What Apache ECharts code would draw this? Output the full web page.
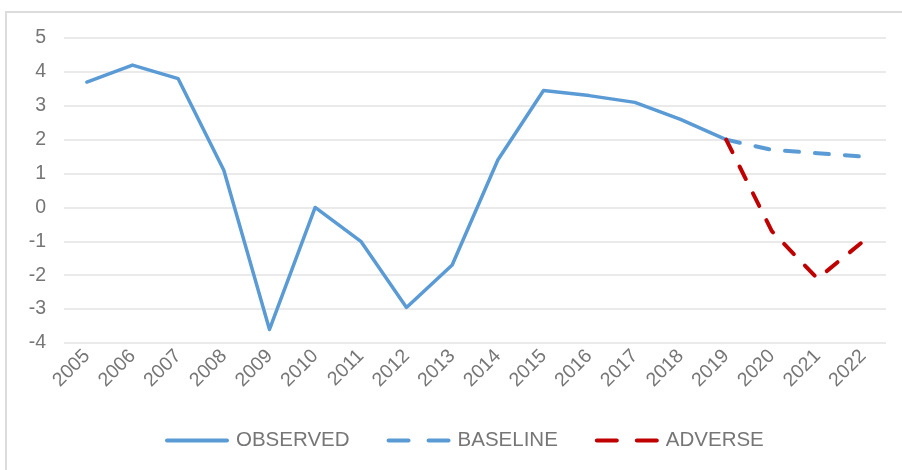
<!DOCTYPE html>
<html>
<head>
<meta charset="utf-8">
<style>
  html, body { margin: 0; padding: 0; background: #fff; }
  #frame { position: absolute; left: 5px; top: 11px; width: 902px; height: 470px;
           border-left: 2px solid #dcdcdc; border-top: 2px solid #dcdcdc; box-sizing: border-box; }
  #chart { position: absolute; left: 0; top: 0; width: 902px; height: 470px; }
</style>
<script src="https://cdn.jsdelivr.net/npm/echarts@6/dist/echarts.min.js"></script>
</head>
<body>
<div id="frame"></div>
<div id="chart"></div>
<script>
// Annual growth, observed history and two projection scenarios (%)
const years = ['2005','2006','2007','2008','2009','2010','2011','2012','2013',
               '2014','2015','2016','2017','2018','2019','2020','2021','2022'];
const observed = [3.7, 4.2, 3.8, 1.1, -3.6, 0.0, -1.0, -2.95, -1.7,
                  1.4, 3.45, 3.3, 3.1, 2.6, 2.0, null, null, null];
const baseline = [null, null, null, null, null, null, null, null, null,
                  null, null, null, null, null, 2.0, 1.7, 1.6, 1.5];
const adverse  = [null, null, null, null, null, null, null, null, null,
                  null, null, null, null, null, 2.0, -0.7, -2.1, -1.0];
const yTicks = { min: -4, max: 5, step: 1 };

const BLUE = '#5b9bd5';
const RED = '#c00000';
const TEXT = '#767676';
const FONT = '"Liberation Sans", Arial, sans-serif';

// legend glyphs: a solid stroke and a two-dash stroke
const SOLID_ICON = 'path://M2,0 L62,0 A2,2 0 0 1 62,4 L2,4 A2,2 0 0 1 2,0 Z';
const DASH_ICON = 'path://M2,0 L22,0 A2,2 0 0 1 22,4 L2,4 A2,2 0 0 1 2,0 Z ' +
                  'M42,0 L62,0 A2,2 0 0 1 62,4 L42,4 A2,2 0 0 1 42,0 Z';

const chart = echarts.init(document.getElementById('chart'), null, { renderer: 'canvas' });
chart.setOption({
  animation: false,
  textStyle: { fontFamily: FONT },
  grid: { left: 64, right: 16, top: 38, bottom: 127 },
  legend: {
    bottom: 14,
    left: 160,
    itemWidth: 64,
    itemHeight: 4,
    itemGap: 37,
    textStyle: { color: TEXT, fontSize: 20.5, fontFamily: FONT, padding: [0, 0, 0, 2] },
    data: [
      { name: 'OBSERVED', icon: SOLID_ICON },
      { name: 'BASELINE', icon: DASH_ICON },
      { name: 'ADVERSE', icon: DASH_ICON }
    ]
  },
  xAxis: {
    type: 'category',
    data: years,
    boundaryGap: true,
    axisLine: { show: false },
    axisTick: { show: false },
    axisLabel: { color: TEXT, fontSize: 19.5, rotate: 45, margin: 10, fontFamily: FONT },
    splitLine: { show: false }
  },
  yAxis: {
    type: 'value',
    min: yTicks.min,
    max: yTicks.max,
    interval: yTicks.step,
    axisLine: { show: false },
    axisTick: { show: false },
    axisLabel: { color: TEXT, fontSize: 19.5, margin: 18, fontFamily: FONT },
    splitLine: { lineStyle: { color: '#e3e3e3', width: 1.5 } }
  },
  series: [
    {
      name: 'OBSERVED', type: 'line', data: observed,
      symbol: 'none', connectNulls: false,
      lineStyle: { color: BLUE, width: 3.5, cap: 'round', join: 'round' },
      itemStyle: { color: BLUE }, z: 3
    },
    {
      name: 'BASELINE', type: 'line', data: baseline,
      symbol: 'none',
      lineStyle: { color: BLUE, width: 4, type: [14, 16], cap: 'round', join: 'round' },
      itemStyle: { color: BLUE }, z: 2
    },
    {
      name: 'ADVERSE', type: 'line', data: adverse,
      symbol: 'none',
      lineStyle: { color: RED, width: 4, type: [14, 16], cap: 'round', join: 'round' },
      itemStyle: { color: RED }, z: 4
    }
  ]
});
</script>
</body>
</html>
